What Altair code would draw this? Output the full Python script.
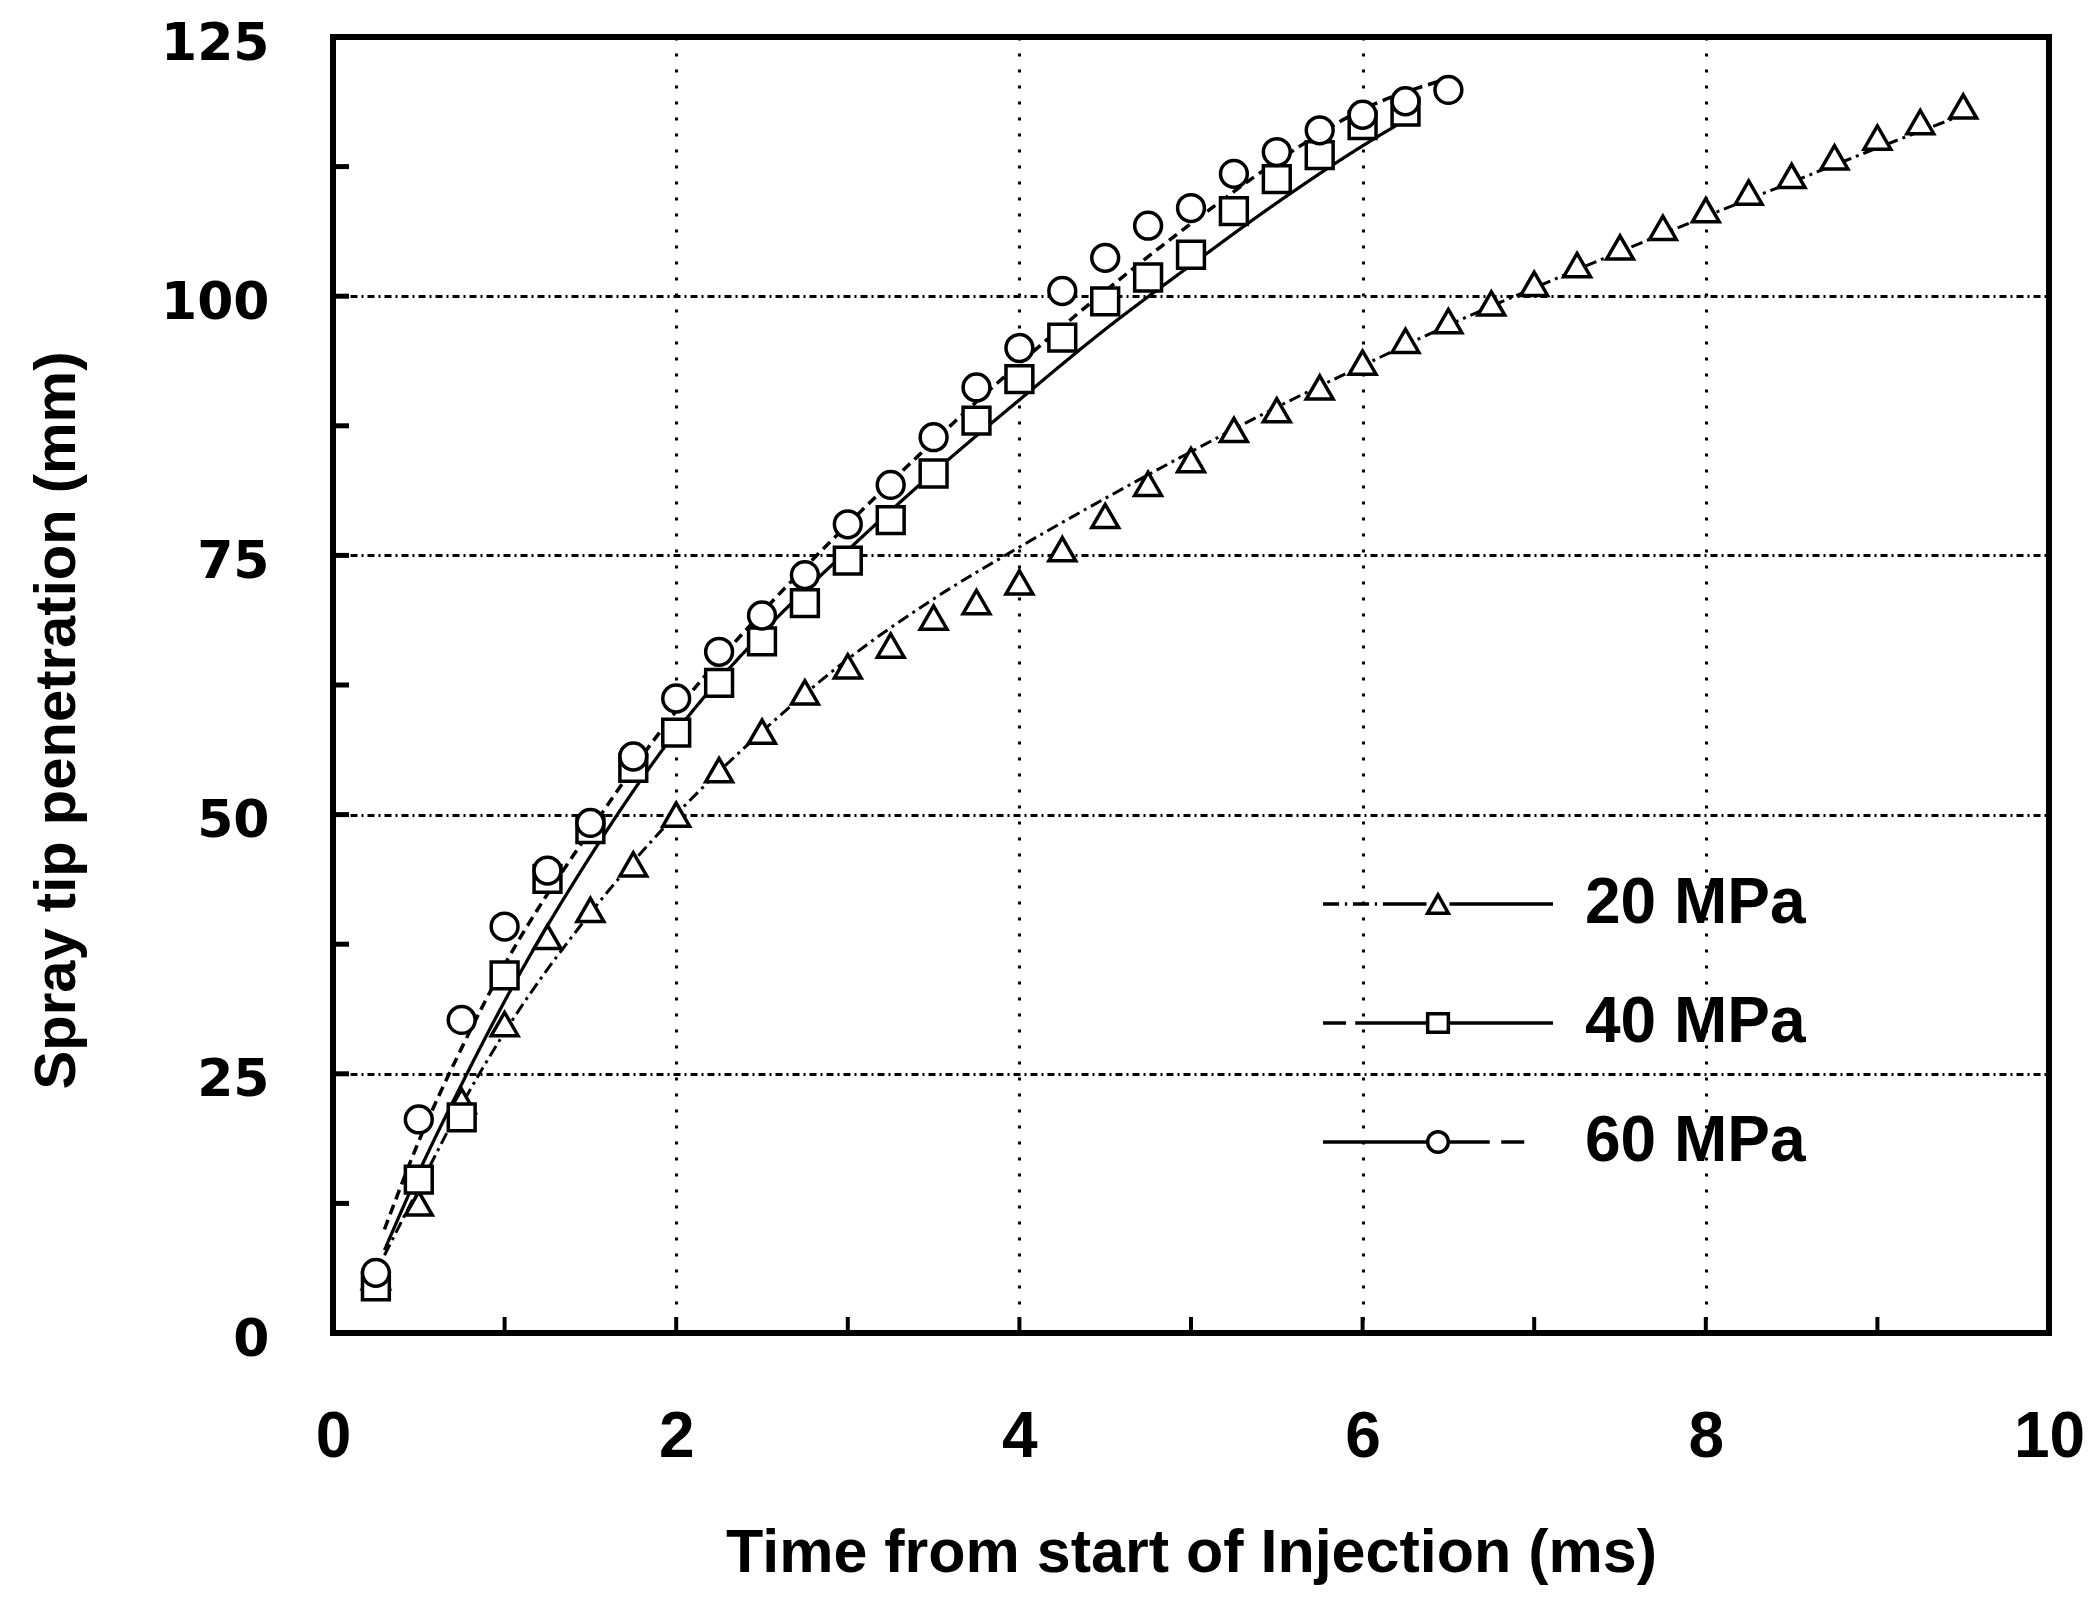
import altair as alt
import pandas as pd

series = ["20 MPa", "40 MPa", "60 MPa"]

# measured points (time in ms, penetration in mm)
t20 = [0.25, 0.5, 0.75, 1.0, 1.25, 1.5, 1.75, 2.0, 2.25, 2.5, 2.75, 3.0, 3.25, 3.5, 3.75,
       4.0, 4.25, 4.5, 4.75, 5.0, 5.25, 5.5, 5.75, 6.0, 6.25, 6.5, 6.75, 7.0, 7.25, 7.5,
       7.75, 8.0, 8.25, 8.5, 8.75, 9.0, 9.25, 9.5]
v20 = [5.4, 12.5, 22.4, 29.8, 38.2, 40.8, 45.2, 50.0, 54.3, 58.0, 61.8, 64.3, 66.3, 69.0, 70.5,
       72.4, 75.6, 78.8, 81.9, 84.2, 87.1, 89.0, 91.2, 93.6, 95.7, 97.6, 99.3, 101.2, 103.0, 104.7,
       106.6, 108.3, 110.0, 111.6, 113.4, 115.3, 116.8, 118.3]

t40 = [0.25, 0.5, 0.75, 1.0, 1.25, 1.5, 1.75, 2.0, 2.25, 2.5, 2.75, 3.0, 3.25, 3.5, 3.75,
       4.0, 4.25, 4.5, 4.75, 5.0, 5.25, 5.5, 5.75, 6.0, 6.25]
v40 = [4.5, 14.8, 20.8, 34.5, 43.8, 48.6, 54.5, 57.9, 62.7, 66.7, 70.4, 74.5, 78.4, 82.9, 88.0,
       92.0, 96.0, 99.5, 101.8, 104.0, 108.2, 111.3, 113.6, 116.5, 117.8]

t60 = [0.25, 0.5, 0.75, 1.0, 1.25, 1.5, 1.75, 2.0, 2.25, 2.5, 2.75, 3.0, 3.25, 3.5, 3.75,
       4.0, 4.25, 4.5, 4.75, 5.0, 5.25, 5.5, 5.75, 6.0, 6.25, 6.5]
v60 = [5.8, 20.6, 30.2, 39.2, 44.6, 49.2, 55.6, 61.2, 65.7, 69.2, 73.1, 78.0, 81.8, 86.4, 91.2,
       95.0, 100.5, 103.7, 106.8, 108.5, 111.8, 113.9, 116.0, 117.5, 118.8, 119.9]

# fitted curves
f20_t = [0.3, 0.5, 0.75, 1.0, 1.5, 2.0, 2.5, 3.0, 3.5, 4.0, 4.5, 5.0, 5.5, 6.0, 6.5, 7.0, 7.5, 8.0, 8.5, 9.0, 9.5]
f20_v = [7.5, 14.0, 22.0, 29.0, 40.5, 50.0, 58.0, 65.0, 70.8, 75.8, 80.5, 85.0, 89.3, 93.3, 97.2, 100.8, 104.3, 107.7, 111.0, 114.3, 117.5]
f40_t = [0.3, 0.5, 0.75, 1.0, 1.5, 2.0, 2.5, 3.0, 3.5, 4.0, 4.5, 5.0, 5.5, 6.0, 6.25]
f40_v = [8.0, 15.5, 24.0, 32.0, 46.0, 58.0, 67.5, 75.5, 83.0, 90.0, 96.8, 103.0, 109.0, 114.5, 117.0]
f60_t = [0.3, 0.5, 0.75, 1.0, 1.5, 2.0, 2.5, 3.0, 3.5, 4.0, 4.5, 5.0, 5.5, 6.0, 6.5]
f60_v = [10.0, 18.5, 27.5, 35.5, 48.5, 60.0, 69.5, 78.0, 86.0, 93.5, 100.5, 107.0, 113.0, 118.0, 121.0]

x_labels = [0, 2, 4, 6, 8, 10]
y_labels = [0, 25, 50, 75, 100, 125]
x_minor = [1, 2, 3, 4, 5, 6, 7, 8, 9]
y_minor = [12.5, 25, 37.5, 50, 62.5, 75, 87.5, 100, 112.5]

pts = pd.concat([
    pd.DataFrame({"t": t20, "v": v20, "series": series[0]}),
    pd.DataFrame({"t": t40, "v": v40, "series": series[1]}),
    pd.DataFrame({"t": t60, "v": v60, "series": series[2]}),
])
fits = pd.concat([
    pd.DataFrame({"t": f20_t, "v": f20_v, "series": series[0]}),
    pd.DataFrame({"t": f40_t, "v": f40_v, "series": series[1]}),
    pd.DataFrame({"t": f60_t, "v": f60_v, "series": series[2]}),
])

W, H = 1716, 1296
xs = alt.Scale(domain=[0, 10], nice=False, zero=False)
ys = alt.Scale(domain=[0, 125], nice=False, zero=False)

x_axis = alt.Axis(values=x_labels, format="d", grid=True, gridColor="black", gridDash=[3, 13], gridWidth=3,
                  gridOpacity=1, ticks=False, domain=False,
                  labelFont="Liberation Sans", labelFontWeight="bold", labelFontSize=64,
                  labelColor="black", labelPadding=72, labelFlush=False,
                  title="Time from start of Injection (ms)", titleFont="Liberation Sans",
                  titleFontSize=61, titleFontWeight="bold", titleColor="black", titlePadding=54)
y_axis = alt.Axis(values=y_labels, format="d", grid=True, gridColor="black", gridDash=[7, 4, 2, 4], gridWidth=3,
                  gridOpacity=1, ticks=False, domain=False,
                  labelFont="DejaVu Sans", labelFontWeight="bold", labelFontSize=52,
                  labelColor="black", labelPadding=64, labelFlush=False, labelOffset=6,
                  title="Spray tip penetration (mm)", titleFont="Liberation Sans",
                  titleFontSize=58, titleFontWeight="bold", titleColor="black", titlePadding=74,
                  titleY=H / 2 + 35)

lines = alt.Chart(fits).mark_line(color="black", interpolate="monotone").encode(
    x=alt.X("t:Q", scale=xs, axis=x_axis),
    y=alt.Y("v:Q", scale=ys, axis=y_axis),
    detail="series:N",
    strokeDash=alt.StrokeDash("series:N", scale=alt.Scale(domain=series, range=[[12, 5, 3, 5], [1, 0], [10, 6]]), legend=None),
    strokeWidth=alt.StrokeWidth("series:N", scale=alt.Scale(domain=series, range=[3, 3.5, 2.5]), legend=None),
)

points = alt.Chart(pts).mark_point(filled=True, fill="white", stroke="black", strokeWidth=3.5,
                                   size=720, opacity=1).encode(
    x=alt.X("t:Q", scale=xs),
    y=alt.Y("v:Q", scale=ys),
    shape=alt.Shape("series:N", scale=alt.Scale(domain=series, range=["triangle-up", "square", "circle"]), legend=None),
)

# legend symbols: line - marker - line
leg_paths = [
    "M-1,0H-0.86M-0.81,0H-0.79M-0.74,0H-0.6M-0.55,0H-0.53M-0.48,0H-0.1"
    "M-0.09,0.08L0,-0.08L0.09,0.08ZM0.1,0H1",
    "M-1,0H-0.8M-0.72,0H-0.1M-0.09,-0.08H0.09V0.08H-0.09ZM0.1,0H1",
    "M-1,0H-0.1M-0.09,0A0.09,0.09 0 1,0 0.09,0A0.09,0.09 0 1,0 -0.09,0ZM0.1,0H0.45M0.55,0H0.75",
]
legend_layer = alt.Chart(pts).mark_point(opacity=0, size=1).encode(
    x=alt.X("t:Q", scale=xs),
    y=alt.Y("v:Q", scale=ys),
    shape=alt.Shape("series:N", scale=alt.Scale(domain=series, range=leg_paths),
                    legend=alt.Legend(title=None, orient="none", legendX=988, legendY=836,
                                      symbolSize=52900, symbolStrokeWidth=3.5, symbolStrokeColor="black",
                                      symbolFillColor="white", symbolOpacity=1, clipHeight=62,
                                      rowPadding=55, labelOffset=30, padding=0,
                                      labelFont="Liberation Sans", labelFontWeight="bold",
                                      labelFontSize=64, labelColor="black", labelLimit=600)),
)

ytick_df = pd.DataFrame({"v": y_minor})
xtick_df = pd.DataFrame({"t": x_minor})
yticks = alt.Chart(ytick_df).mark_rule(color="black", strokeWidth=5).encode(
    y=alt.Y("v:Q", scale=ys), x=alt.value(0), x2=alt.value(16))
xticks = alt.Chart(xtick_df).mark_rule(color="black", strokeWidth=4).encode(
    x=alt.X("t:Q", scale=xs), y=alt.value(H), y2=alt.value(H - 16))

chart = alt.layer(lines, yticks, xticks, points, legend_layer).resolve_scale(
    shape="independent"
).properties(
    width=W, height=H,
    autosize=alt.AutoSizeParams(type="none"),
    padding={"left": 325, "top": 29, "right": 35, "bottom": 267},
    background="white",
).configure_view(stroke="black", strokeWidth=6)

chart.save("out.html", embed_options={"renderer": "svg", "actions": False})
